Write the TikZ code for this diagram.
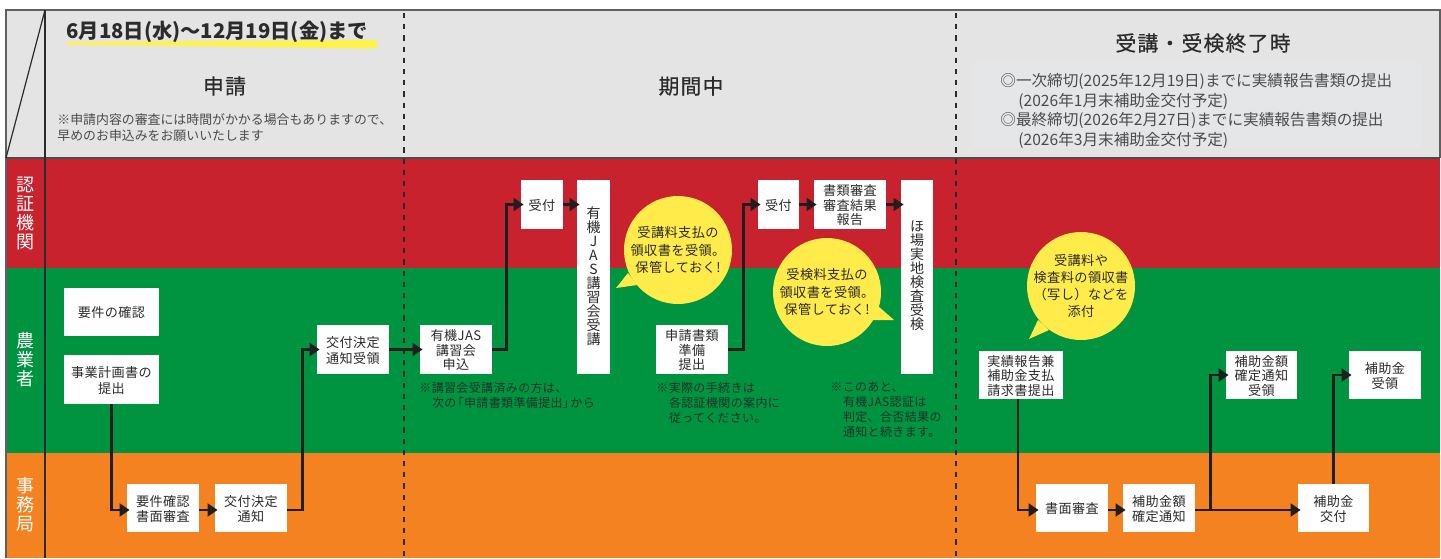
\documentclass[tikz,border=0pt]{standalone}
\usepackage{fontspec}
\usetikzlibrary{arrows.meta,calc}
\setmainfont{Noto Sans CJK JP}
\newfontfamily\trkfont[LetterSpace=3]{Noto Sans CJK JP}
\newfontfamily\notefont[LetterSpace=3]{Noto Sans CJK JP}
\newfontfamily\headfont[FakeBold=0.6,LetterSpace=6]{Noto Sans CJK JP}
\definecolor{hdr}{HTML}{E4E4E4}
\definecolor{hdrp}{HTML}{E5E6E8}
\definecolor{lanered}{HTML}{C7222E}
\definecolor{lanegreen}{HTML}{009340}
\definecolor{laneorange}{HTML}{F58220}
\definecolor{bub}{HTML}{FFEB4A}
\definecolor{hilite}{HTML}{FFF34A}
\definecolor{ink}{HTML}{2B2B2B}
\definecolor{noteink}{HTML}{1F3328}
\tikzset{
  flowbox/.style={fill=white,inner sep=0pt},
  boxtext/.style={inner sep=0pt,text=ink,align=center,yshift=-.5pt,font=\trkfont\fontsize{6.55}{7.25}\selectfont},
  vtext/.style={boxtext,yshift=.9pt,font=\fontsize{7}{7}\selectfont},
  flow/.style={draw=black!88,line width=1.35pt,-{Triangle[length=5pt,width=6.4pt]},shorten >=-1.5pt},
  bubble/.style={circle,fill=bub,inner sep=0pt,minimum size=54pt},
  bubbletext/.style={inner sep=0pt,text=ink,align=center,font=\trkfont\fontsize{6.6}{8.65}\selectfont},
  notetext/.style={anchor=north west,inner sep=0pt,align=left,text=noteink,font=\notefont\fontsize{6}{7.5}\selectfont},
  lanelabel/.style={text=white,align=center,inner sep=0pt,font=\fontsize{9}{9.5}\selectfont},
  headtext/.style={text=ink,inner sep=0pt,font=\headfont\fontsize{10.4}{12}\selectfont},
  divider/.style={draw=ink,line width=.7pt,dash pattern=on 2.6pt off 3pt}
}
\newcommand{\bbx}[6]{\node[flowbox,minimum width={(#3-#2)*0.5pt},minimum height={(#5-#4)*0.5pt}] (#1) at ({(#2+#3)/2},{(#4+#5)/2}) {}; \node[boxtext] (#1t) at (#1) {#6};}
\newcommand{\vbx}[6]{\node[flowbox,minimum width={(#3-#2)*0.5pt},minimum height={(#5-#4)*0.5pt}] (#1) at ({(#2+#3)/2},{(#4+#5)/2}) {}; \node[vtext] (#1t) at (#1) {#6};}
\begin{document}
\begin{tikzpicture}[x=0.5pt,y=-0.5pt]
\useasboundingbox (0,0) rectangle (1441,558);
% bands
\fill[hdr] (6,10) rectangle (1440,158);
\fill[lanered] (6,158) rectangle (1440,268);
\fill[lanegreen] (6,268) rectangle (1440,453);
\fill[laneorange] (6,453) rectangle (1440,558);
\fill[hdrp,rounded corners=3pt] (972,63) rectangle (1423,148);
% frame
\draw[ink!75,line width=.8pt] (6,558) -- (6,10) -- (1440,10) -- (1440,158);
\draw[ink!85,line width=.8pt] (6,158) -- (1440,158);
\draw[ink,line width=.7pt] (45,10) -- (45,558);
\draw[ink,line width=.6pt] (45,10) -- (6,158);
\draw[divider] (404,13) -- (404,558);
\draw[divider] (956,13) -- (956,558);
% header
\fill[hilite] (66,42) -- (377,40) -- (377,48.5) -- (66,44.5) -- cycle;
\node[anchor=west,inner sep=0pt,text=ink,font=\bfseries\fontsize{10.15}{12}\selectfont] (title) at (66,32) {6月18日(水)〜12月19日(金)まで};
\node[headtext] (h1) at (224.5,86) {申請};
\node[anchor=north west,inner sep=0pt,align=left,text=ink!85,font=\fontsize{6.45}{7.6}\selectfont] (n0) at (57,113.5) {※申請内容の審査には時間がかかる場合もありますので、\\早めのお申込みをお願いいたします};
\node[headtext] (h2) at (691,86) {期間中};
\node[headtext] (h3) at (1203,43) {受講・受検終了時};
\node[anchor=north west,inner sep=0pt,align=left,text=ink!85,font=\fontsize{7.8}{9.8}\selectfont] (n4) at (1000,73) {◎一次締切(2025年12月19日)までに実績報告書類の提出\\\hspace*{9pt}(2026年1月末補助金交付予定)\\◎最終締切(2026年2月27日)までに実績報告書類の提出\\\hspace*{9pt}(2026年3月末補助金交付予定)};
% lane labels
\node[lanelabel] (l1) at (25.5,213) {認\\証\\機\\関};
\node[lanelabel] (l2) at (25.5,360) {農\\業\\者};
\node[lanelabel] (l3) at (25.5,505) {事\\務\\局};
% bubbles
\fill[bub] (628,273) -- (616,288) -- (637,285) -- cycle;
\fill[bub] (878,306) -- (894,320) -- (873,320) -- cycle;
\fill[bub] (1038,320) -- (1029,339) -- (1049,330) -- cycle;
\node[bubble] (b1) at (678,250) {};
\node[bubble] (b2) at (827,292) {};
\node[bubble] (b3) at (1081,286) {};
\node[bubbletext] (bt1) at (b1) {受講料支払の\\領収書を受領。\\保管しておく!};
\node[bubbletext] (bt2) at (b2) {受検料支払の\\領収書を受領。\\保管しておく!};
\node[bubbletext] (bt3) at (b3) {受講料や\\検査料の領収書\\（写し）などを\\添付};
% boxes
\bbx{a1}{64}{159}{288}{336}{要件の確認}
\bbx{a2}{64}{159}{355}{404}{事業計画書の\\[1pt]提出}
\bbx{a3}{127}{199}{484}{532}{要件確認\\[.5pt]書面審査}
\bbx{a4}{215}{287}{484}{532}{交付決定\\[.5pt]通知}
\bbx{a5}{317}{389}{325}{374}{交付決定\\[.5pt]通知受領}
\bbx{c1}{420}{492}{325}{374}{有機JAS\\講習会\\申込}
\bbx{c2}{521}{563}{180}{229}{受付}
\vbx{c3}{577}{610}{180}{374}{有\\機\\J\\A\\S\\講\\習\\会\\受\\講}
\bbx{c4}{656}{728}{325}{374}{申請書類\\準備\\提出}
\bbx{c5}{758}{799}{180}{229}{受付}
\bbx{c6}{814}{886}{180}{229}{書類審査\\審査結果\\報告}
\vbx{c7}{901}{933}{180}{374}{ほ\\場\\実\\地\\検\\査\\受\\検}
\bbx{e1}{979}{1063}{351}{399}{実績報告兼\\補助金支払\\請求書提出}
\bbx{e2}{1036}{1108}{484}{532}{書面審査}
\bbx{e3}{1123}{1195}{484}{532}{補助金額\\[.5pt]確定通知}
\bbx{e4}{1226}{1297}{351}{399}{補助金額\\確定通知\\受領}
\bbx{e5}{1298}{1369}{484}{532}{補助金\\[.5pt]交付}
\bbx{e6}{1349}{1421}{351}{399}{補助金\\[.5pt]受領}
% notes
\node[notetext] (m1) at (419,382) {※講習会受講済みの方は、\\\hspace*{6.3pt}次の\hspace{-2.3pt}「申請書類準備提出」\hspace{-2.3pt}から};
\node[notetext] (m2) at (656,382) {※実際の手続きは\\\hspace*{6.3pt}各認証機関の案内に\\\hspace*{6.3pt}従ってください。};
\node[notetext] (m3) at (830,382) {※このあと、\\\hspace*{6.3pt}有機JAS認証は\\\hspace*{6.3pt}判定、合否結果の\\\hspace*{6.3pt}通知と続きます。};
% connectors
\draw[flow] (a2.south) |- ([yshift=-1pt]a3.west);
\draw[flow] ([yshift=-1pt]a3.east) -- ([yshift=-1pt]a4.west);
\draw[flow] ([yshift=-1pt]a4.east) -- ++(7.5pt,0) |- (a5.west);
\draw[flow] (a5.east) -- (c1.west);
\draw[flow] (c1.east) -- ++(7.2pt,0) |- (c2.west);
\draw[flow] (c2.east) -- (c2.east -| c3.west);
\draw[flow] (c4.east) -- ++(7.5pt,0) |- (c5.west);
\draw[flow] (c5.east) -- (c6.west);
\draw[flow] (c6.east) -- (c6.east -| c7.west);
\draw[flow] ([xshift=-1.5pt]e1.south) |- ([yshift=-1pt]e2.west);
\draw[flow] ([yshift=-1pt]e2.east) -- ([yshift=-1pt]e3.west);
\draw[flow] ([yshift=-1pt]e3.east) -- ([yshift=-1pt]e5.west);
\draw[flow] ([xshift=7.5pt,yshift=-1pt]e3.east) |- (e4.west);
\draw[flow] (e5.north) |- (e6.west);
\end{tikzpicture}
\end{document}
